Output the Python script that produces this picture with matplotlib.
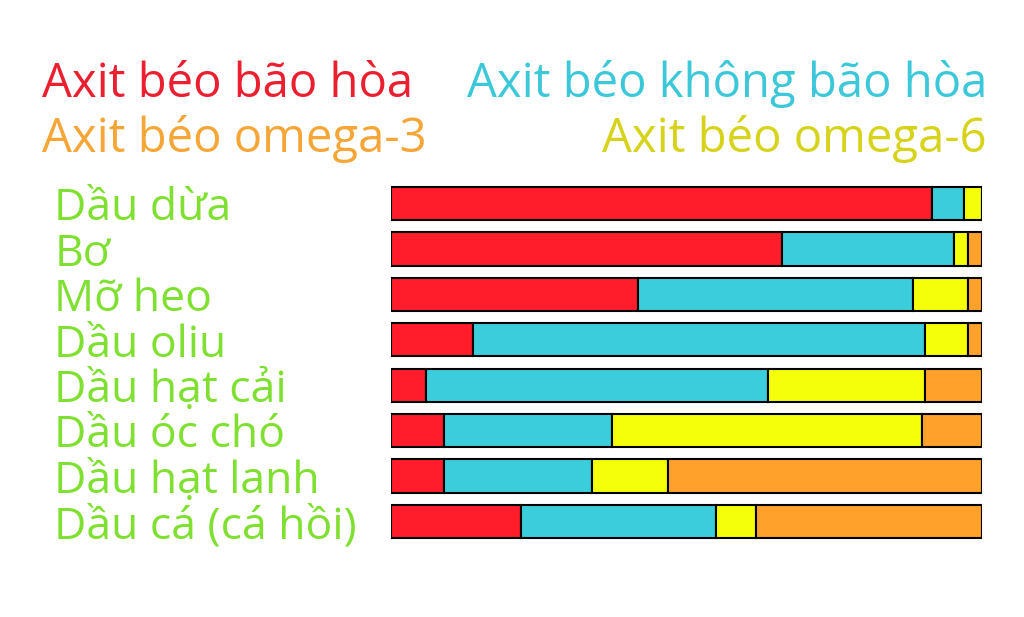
import matplotlib.pyplot as plt
import numpy as np

# percentages
foods = ['Dầu dừa', 'Bơ', 'Mỡ heo', 'Dầu oliu', 'Dầu hạt cải',
         'Dầu óc chó', 'Dầu hạt lanh', 'Dầu cá (cá hồi)']
saturated = [91.6, 66.1, 41.7, 13.9, 5.9, 9.0, 9.0, 21.9]
unsaturated = [5.3, 29.1, 46.6, 76.5, 57.8, 28.3, 25.0, 33.1]
omega6 = [3.1, 2.5, 9.4, 7.3, 26.6, 52.5, 12.8, 6.7]
omega3 = [0.0, 2.3, 2.3, 2.3, 9.7, 10.2, 53.2, 38.3]

series_names = ['Axit béo bão hòa', 'Axit béo không bão hòa',
                'Axit béo omega-6', 'Axit béo omega-3']
bar_colors = ['#ff1c2b', '#3bcddb', '#f5ff0a', '#ffa12a']
text_colors = ['#ea1f30', '#3cc8d9', '#d6d31a', '#f5a636']
label_color = '#80e032'

plt.rcParams['font.family'] = ['Open Sans', 'Noto Sans', 'DejaVu Sans']

fig = plt.figure(figsize=(10.24, 6.17), dpi=100)
ax = fig.add_axes([0.382, 0.118, 0.577, 0.589])

y = np.arange(len(foods))
left = np.zeros(len(foods))
for vals, c in zip([saturated, unsaturated, omega6, omega3], bar_colors):
    vals = np.array(vals)
    ax.barh(y, vals, left=left, height=0.73, color=c,
            edgecolor='black', linewidth=1.5)
    left += vals

ax.set_xlim(0, 100)
ax.set_ylim(len(foods) - 0.5, -0.5)
ax.axis('off')

# category labels on the left
trans = ax.get_yaxis_transform()
for i, name in enumerate(foods):
    ax.text(-0.57, i, name, transform=trans, ha='left', va='center_baseline',
            fontsize=32, color=label_color)

# legend as coloured text
fig.text(42 / 1024, 1 - 97 / 617, series_names[0], color=text_colors[0],
         fontsize=34, ha='left', va='baseline')
fig.text(987 / 1024, 1 - 97 / 617, series_names[1], color=text_colors[1],
         fontsize=34, ha='right', va='baseline')
fig.text(42 / 1024, 1 - 152 / 617, series_names[3], color=text_colors[3],
         fontsize=34, ha='left', va='baseline')
fig.text(987 / 1024, 1 - 152 / 617, series_names[2], color=text_colors[2],
         fontsize=34, ha='right', va='baseline')

fig.savefig('out.png', dpi=100, facecolor='white')
